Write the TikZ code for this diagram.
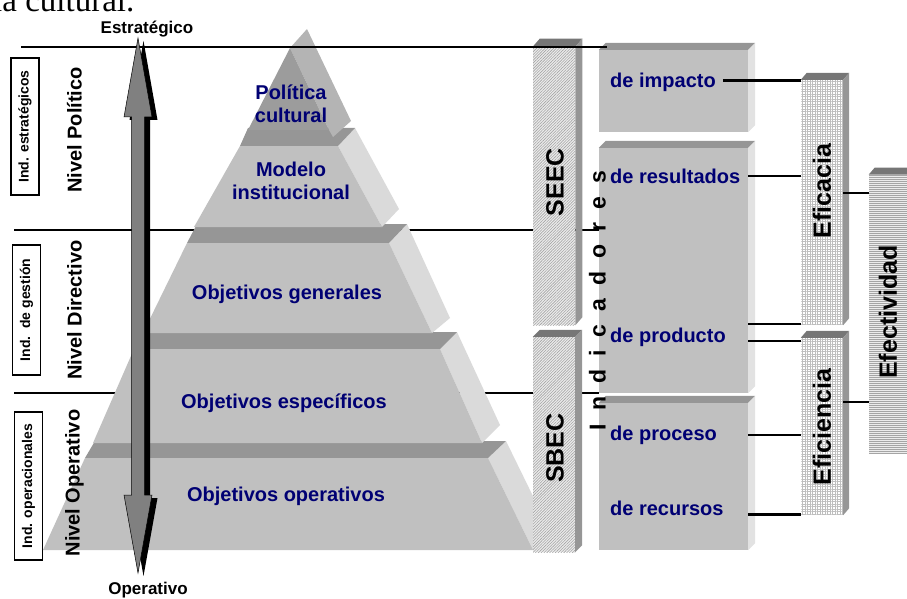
\documentclass[tikz,border=0pt]{standalone}
\usepackage{fontspec}
\setmainfont{Liberation Sans}
\newfontfamily\serifface{Liberation Serif}
\usetikzlibrary{patterns.meta}

\definecolor{navytxt}{RGB}{0,0,115}
\definecolor{frontgray}{RGB}{192,192,192}
\definecolor{bevelgray}{RGB}{150,150,150}
\definecolor{sidegray}{RGB}{218,218,218}
\definecolor{tipfront}{RGB}{156,156,156}
\definecolor{tipside}{RGB}{180,180,180}
\definecolor{arrowgray}{RGB}{128,128,128}
\definecolor{barside}{RGB}{150,150,150}
\definecolor{bartop}{RGB}{118,118,118}
\definecolor{boxside}{RGB}{226,226,226}
\definecolor{hatchline}{RGB}{165,165,165}
\definecolor{gridline}{RGB}{190,190,190}
\definecolor{barbg}{RGB}{236,236,236}

% top bevel and right side face of a rectangular node
\newcommand\bevelbox[5]{%
  \fill[#4] (#1.north west) -- ++(#2,-#3) -- ([shift={(#2,-#3)}]#1.north east) -- (#1.north east) -- cycle;
  \fill[#5] (#1.north east) -- ++(#2,-#3) -- ([shift={(#2,-#3)}]#1.south east) -- (#1.south east) -- cycle;}

\begin{document}
\begin{tikzpicture}[x=1pt,y=-1pt,
  lvl/.style={line width=1.5pt},
  conn/.style={line width=2.5pt},
  pyrtext/.style={text=navytxt, font=\bfseries\fontsize{20}{23.5}\selectfont, align=center, inner sep=0pt},
  boxtext/.style={text=navytxt, font=\bfseries\fontsize{20}{23.5}\selectfont, anchor=west, inner sep=0pt},
  nivel/.style={rotate=90, font=\bfseries\fontsize{20}{24}\selectfont, inner sep=0pt},
  indbox/.style={draw, line width=1.2pt, rotate=90, font=\bfseries\fontsize{14}{16}\selectfont, inner sep=0pt, minimum height=28pt},
  bartext/.style={rotate=90, font=\bfseries\fontsize{25}{30}\selectfont, inner sep=0pt},
  endlabel/.style={font=\bfseries\fontsize{17}{20}\selectfont, inner sep=0pt},
  ibox/.style={rectangle, fill=frontgray, inner sep=0pt, minimum width=149pt},
  hatchbar/.style={rectangle, inner sep=0pt, minimum width=42pt, preaction={fill=barbg},
    pattern={Lines[angle=45,distance=2pt,line width=0.6pt]}, pattern color=hatchline},
  gridbar/.style={rectangle, inner sep=0pt, minimum width=42pt, preaction={fill=white},
    pattern={Hatch[angle=0,distance=2.5pt,line width=0.4pt]}, pattern color=gridline},
  linebar/.style={rectangle, inner sep=0pt, minimum width=42pt, preaction={fill=barbg},
    pattern={Lines[angle=0,distance=2pt,line width=0.7pt]}, pattern color=hatchline},
]
\useasboundingbox (0,0) rectangle (907,599);

% end of the preceding text line
\node[anchor=base west, font=\serifface\fontsize{33}{38}\selectfont, inner sep=0pt] (prev) at (-7,11.5) {ia cultural.};

% indicator boxes
\node[ibox, minimum height=82pt] (imp) at (673.5,91) {};
\bevelbox{imp}{7}{7}{bevelgray}{boxside}
\node[ibox, minimum height=245pt] (res) at (673.5,270.5) {};
\bevelbox{res}{7}{7}{bevelgray}{boxside}
\node[ibox, minimum height=147pt] (pro) at (673.5,476.5) {};
\bevelbox{pro}{7}{7}{bevelgray}{boxside}

% level separators behind the pyramid
\coordinate (l2a) at (14,230);
\coordinate (l3a) at (14,393);
\draw[lvl] (l2a) -- (l2a -| res.west);
\draw[lvl] (l3a) -- (l3a -| res.west);

% pyramid, bottom layer first
\fill[sidegray] (488,458) -- (506,441) -- (552,535) -- (533,550) -- cycle;
\fill[bevelgray] (85,458) -- (95,441) -- (506,441) -- (488,458) -- cycle;
\fill[frontgray] (85,458) -- (488,458) -- (533,550) -- (43,550) -- cycle;

\fill[sidegray] (440,349) -- (457,332) -- (500,425) -- (482,443) -- cycle;
\fill[bevelgray] (134,349) -- (144,332) -- (457,332) -- (440,349) -- cycle;
\fill[frontgray] (134,349) -- (440,349) -- (482,443) -- (93,443) -- cycle;

\fill[sidegray] (389,243) -- (407,224) -- (450,318) -- (432,333) -- cycle;
\fill[bevelgray] (187,243) -- (197,224) -- (407,224) -- (389,243) -- cycle;
\fill[frontgray] (187,243) -- (389,243) -- (432,333) -- (143,333) -- cycle;

\fill[sidegray] (338,146) -- (355,128) -- (399,209) -- (382,227) -- cycle;
\fill[bevelgray] (240,146) -- (248,128) -- (355,128) -- (338,146) -- cycle;
\fill[frontgray] (240,146) -- (338,146) -- (382,227) -- (194,227) -- cycle;

\fill[tipside] (290,48) -- (307,29) -- (351,121) -- (333,137) -- (329,130) -- cycle;
\fill[tipfront] (290,48) -- (329,130) -- (248,130) -- cycle;

% pyramid labels
\node[pyrtext] (pol) at (291,104) {Política\\cultural};
\node[pyrtext] (mod) at (291,181) {Modelo\\institucional};
\node[pyrtext] (ogen) at (287,294) {Objetivos generales};
\node[pyrtext] (oesp) at (284,403) {Objetivos específicos};
\node[pyrtext] (oope) at (286,496) {Objetivos operativos};

% evaluation systems
\node[hatchbar, minimum height=278pt] (seec) at (554,186) {};
\bevelbox{seec}{7}{8}{bartop}{barside}
\node[hatchbar, minimum height=215pt] (sbec) at (554,444.5) {};
\bevelbox{sbec}{7}{7}{bartop}{barside}
\node[bartext] (tseec) at (555,182) {SEEC};
\node[bartext] (tsbec) at (555,448) {SBEC};

% efficacy / efficiency / effectiveness
\node[gridbar, minimum height=245pt] (efa) at (822,202.5) {};
\bevelbox{efa}{6}{7}{bartop}{barside}
\node[gridbar, minimum height=177pt] (efi) at (822,426.5) {};
\bevelbox{efi}{6}{7}{bartop}{barside}
\node[linebar, minimum height=278pt] (efe) at (890,314) {};
\bevelbox{efe}{6}{7}{bartop}{barside}
\node[bartext] (tefa) at (822,191) {Eficacia};
\node[bartext] (tefi) at (822,427) {Eficiencia};
\node[bartext] (tefe) at (888,312) {Efectividad};

% top separator
\coordinate (l1a) at (21,47);
\coordinate (l1b) at (607,47);
\draw[lvl] (l1a) -- (l1b);

% strategic / operative double arrow with shadow
\fill[black, shift={(5.5,3)}] (138,38) -- (152,117) -- (144.5,117) -- (144.5,495) -- (152,495) -- (138,573)
  -- (124,495) -- (131.5,495) -- (131.5,117) -- (124,117) -- cycle;
\filldraw[fill=arrowgray, draw=black, line width=0.5pt] (138,38) -- (152,117) -- (144.5,117) -- (144.5,495)
  -- (152,495) -- (138,573) -- (124,495) -- (131.5,495) -- (131.5,117) -- (124,117) -- cycle;
\node[endlabel] (estr) at (147,29) {Estratégico};
\node[endlabel] (oper) at (148,590) {Operativo};

% level names
\node[indbox, minimum width=137pt] (ie) at (25,126.5) {Ind. estratégicos};
\node[indbox, minimum width=130pt] (ig) at (26.5,310) {Ind.\ \ de gestión};
\node[indbox, minimum width=148pt] (io) at (28.5,486) {Ind. operacionales};
\node[nivel] (np) at (74.5,130) {Nivel Político};
\node[nivel] (nd) at (74.5,310) {Nivel Directivo};
\node[nivel] (no) at (74.5,483) {Nivel Operativo};

% indicator labels
\node[boxtext] (timp) at (610,82) {de impacto};
\node[boxtext] (tres) at (610,176) {de resultados};
\node[boxtext] (tprod) at (610,337) {de producto};
\node[boxtext] (tproc) at (610,435) {de proceso};
\node[boxtext] (trec) at (610,508) {de recursos};
\node[rotate=90, font=\bfseries\fontsize{23}{27}\selectfont, inner sep=0pt] (tind) at (597.5,300.5)
  {\spaceskip=13pt I n d i c a d o r e s};

% connectors
\draw[conn] ([xshift=7pt,yshift=1.5pt]timp.east) -- ([yshift=1.5pt]timp.east -| efa.west);
\draw[conn] (tres -| res.east) -- (tres -| efa.west);
\coordinate (c324) at ([yshift=1pt]efa.south west);
\draw[conn] (c324 -| res.east) -- (c324);
\coordinate (cprod) at ([yshift=-4pt]tprod.center);
\draw[conn] (cprod -| res.east) -- (cprod -| efi.west);
\draw[conn] (tproc -| pro.east) -- (tproc -| efi.west);
\coordinate (crec) at ([yshift=0.5pt]efi.south west);
\draw[conn] (crec -| pro.east) -- (crec);
\coordinate (ce1) at ([yshift=9.5pt]efa.east);
\draw[conn] (ce1) -- (ce1 -| efe.west);
\coordinate (ce2) at ([yshift=24.5pt]efi.east);
\draw[conn] (ce2) -- (ce2 -| efe.west);
\end{tikzpicture}
\end{document}
